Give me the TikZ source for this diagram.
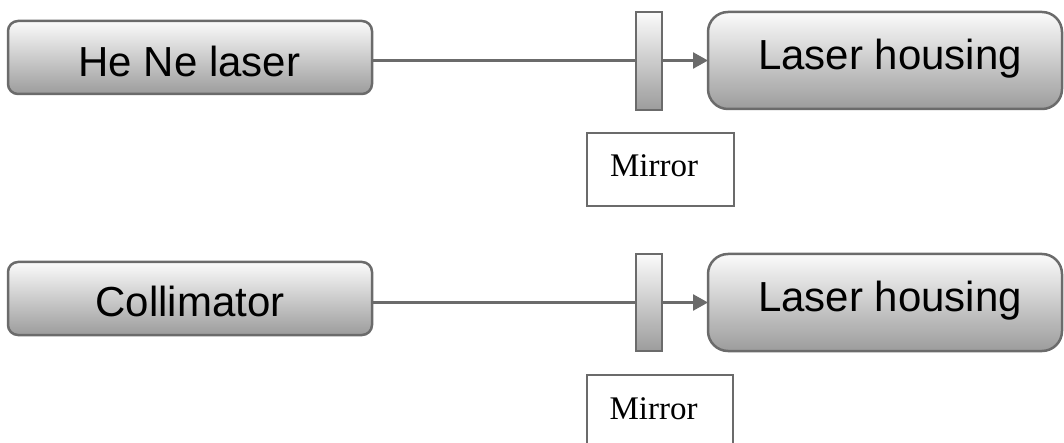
\documentclass[tikz,border=0pt]{standalone}
\usepackage{fontspec}
\setmainfont{Liberation Serif}
\setsansfont{Liberation Sans}
\usetikzlibrary{arrows.meta}
\definecolor{edgegray}{HTML}{6B6B6B}
\definecolor{shadetop}{HTML}{FBFBFB}
\definecolor{shadebot}{HTML}{9C9C9C}
\tikzset{
  box/.style={draw=edgegray, line width=2.5pt, top color=shadetop, bottom color=shadebot,
    inner sep=0pt, outer sep=0pt, anchor=north west},
  smallround/.style={box, rounded corners=10pt},
  biground/.style={box, rounded corners=20pt},
  mirrorbar/.style={box, minimum width=26pt, minimum height=98pt},
  labelbox/.style={draw=edgegray, line width=2pt, fill=white, inner sep=0pt, outer sep=0pt,
    anchor=north west, minimum width=147pt, minimum height=73pt},
  bigtext/.style={font=\sffamily\fontsize{42}{50}\selectfont, anchor=base, inner sep=0pt},
  serift/.style={font=\rmfamily\fontsize{33}{40}\selectfont, anchor=base, inner sep=0pt},
  beam/.style={draw=edgegray, line width=2.5pt, -{Triangle[length=15pt,width=16pt]}}
}
\begin{document}
\begin{tikzpicture}[x=1pt,y=-1pt]
\useasboundingbox (0,0) rectangle (1064,443);
% top row
\node[smallround, minimum width=364pt, minimum height=73pt] (hene) at (8,21) {};
\node[biground, minimum width=354pt, minimum height=97pt] (lh1) at (708,12) {};
\node[bigtext] (henet) at (189.5,77) {He Ne laser};
\node[bigtext] (lh1t) at (890,70) {Laser housing};
\draw[beam] (hene.east |- lh1.west) -- (lh1.west);
\node[mirrorbar] (m1) at (636,12) {};
\node[labelbox] (lab1) at (587,133) {};
\node[serift] (lab1t) at (654,177) {Mirror};
% bottom row
\node[smallround, minimum width=364pt, minimum height=73pt] (coll) at (8,262) {};
\node[biground, minimum width=354pt, minimum height=97pt] (lh2) at (708,254) {};
\node[bigtext] (collt) at (190,316) {Collimator};
\node[bigtext] (lh2t) at (890,311) {Laser housing};
\draw[beam] (coll.east |- lh2.west) -- (lh2.west);
\node[mirrorbar, minimum height=97pt] (m2) at (636,254) {};
\node[labelbox, minimum width=146pt] (lab2) at (587,375) {};
\node[serift] (lab2t) at (653.5,419) {Mirror};
\end{tikzpicture}
\end{document}
